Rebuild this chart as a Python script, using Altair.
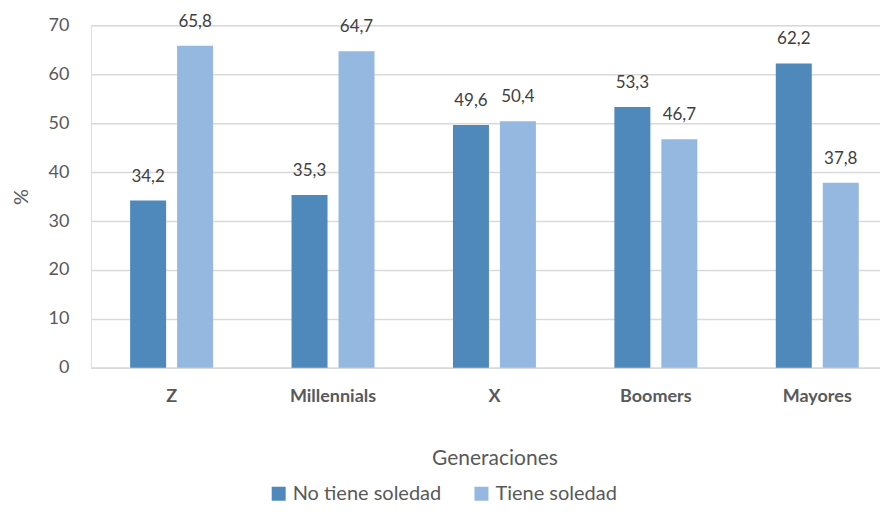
import altair as alt
import pandas as pd

generaciones = ["Z", "Millennials", "X", "Boomers", "Mayores"]
series = ["No tiene soledad", "Tiene soledad"]
no_tiene = [34.2, 35.3, 49.6, 53.3, 62.2]
tiene = [65.8, 64.7, 50.4, 46.7, 37.8]
colores = ["#4F88BB", "#95B8E0"]

rows = []
for g, a, b in zip(generaciones, no_tiene, tiene):
    rows.append({"gen": g, "serie": series[0], "valor": a, "label": f"{a:.1f}".replace(".", ",")})
    rows.append({"gen": g, "serie": series[1], "valor": b, "label": f"{b:.1f}".replace(".", ",")})
df = pd.DataFrame(rows)

FONT = "Lato"

x = alt.X("gen:N", sort=generaciones,
          scale=alt.Scale(range=[0, 808], paddingInner=0.486, paddingOuter=0.243),
          axis=alt.Axis(title="Generaciones", labelAngle=0, labelFontWeight="bold",
                        labelFontSize=18, labelColor="#595959", labelPadding=20,
                        ticks=False, domainColor="#D9D9D9", domainWidth=1.5,
                        titleFontSize=21, titleFontWeight="normal", titleColor="#595959",
                        titlePadding=42, labelFont=FONT, titleFont=FONT))
xo = alt.XOffset("serie:N", sort=series, scale=alt.Scale(paddingInner=0.234, paddingOuter=0))
y = alt.Y("valor:Q", scale=alt.Scale(domain=[0, 70]),
          axis=alt.Axis(title="%", values=[0, 10, 20, 30, 40, 50, 60, 70], ticks=False,
                        domain=False, gridColor="#D9D9D9", gridWidth=1.5,
                        labelFontSize=18, labelColor="#595959", labelPadding=22,
                        titleFontSize=20, titleFontWeight="normal", titleColor="#595959",
                        titlePadding=17, labelFont=FONT, titleFont=FONT))

bars = alt.Chart(df).mark_bar().encode(
    x=x, xOffset=xo, y=y,
    color=alt.Color("serie:N", sort=series, scale=alt.Scale(domain=series, range=colores),
                    legend=alt.Legend(title=None, orient="none", legendX=178, legendY=459,
                                      direction="horizontal", symbolType="square",
                                      symbolSize=196, symbolStrokeWidth=0, labelFontSize=20,
                                      labelColor="#595959", labelFont=FONT, columnPadding=30,
                                      symbolOffset=0, labelOffset=4)),
)

text = alt.Chart(df).mark_text(fontSize=17, color="#404040", baseline="middle", dy=-24, font=FONT).encode(
    x=x, xOffset=xo, y=y, text="label:N"
)

chart = alt.layer(bars, text).properties(
    width=790, height=343,
    autosize=alt.AutoSizeParams(type="none"),
    padding={"left": 83, "top": 17, "right": 0, "bottom": 139},
).configure_view(stroke=None).configure(font=FONT)

chart.save("out.html", embed_options={"renderer": "svg", "actions": False})
